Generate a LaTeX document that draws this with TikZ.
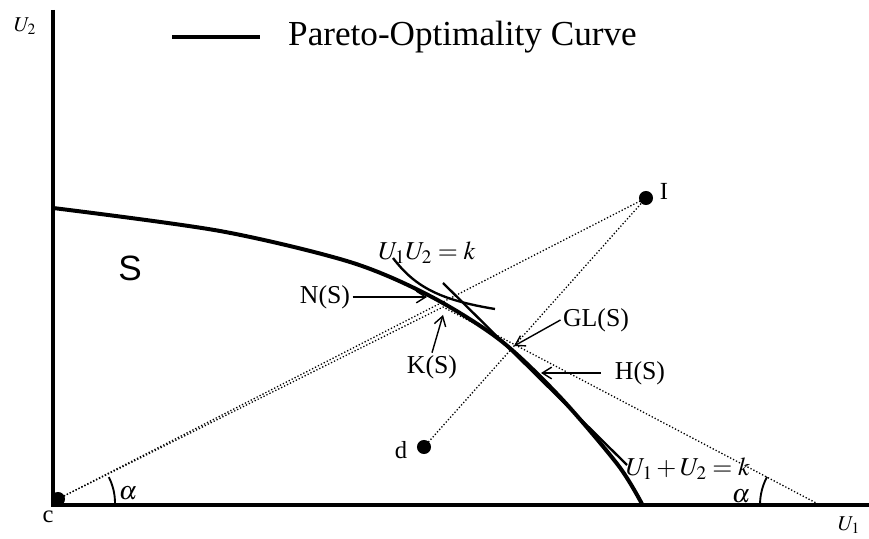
\documentclass[tikz,border=0pt]{standalone}
\usepackage{mathptmx}
\usepackage{fontspec}
\setmainfont{Liberation Serif}
\newfontfamily\arialfont{Liberation Sans}
\usetikzlibrary{arrows.meta}

\tikzset{
  axis/.style={line width=3.4pt, line join=miter},
  pareto/.style={line width=3.4pt},
  guide/.style={line width=2pt},
  dots/.style={line width=1.1pt, dash pattern=on 1.1pt off 1.7pt},
  pin/.style={line width=1.2pt, -{Straight Barb[length=8pt,width=10pt]}},
  dot/.style={circle, fill, inner sep=0pt, minimum size=12pt},
  lbl/.style={font=\fontsize{22}{26}\selectfont, inner sep=2pt},
  mlbl/.style={font=\fontsize{22}{26}\selectfont, inner sep=0pt},
  plbl/.style={font=\fontsize{21}{25}\selectfont, inner sep=1pt},
  axlbl/.style={font=\fontsize{18}{21}\selectfont, inner sep=1pt},
}

\begin{document}
\begin{tikzpicture}[x=0.03cm,y=0.03cm]
\useasboundingbox (0,0) rectangle (869,539);
% axes
\coordinate (O) at (53,34);
\draw[axis] (53,529) -- (O) -- (869,34);
\node[axlbl] (u2) at (25,513) {$U_2$};
\node[axlbl] (u1) at (849,14) {$U_1$};
% legend
\draw[pareto] (172,502) -- (260,502);
\node[anchor=base west, inner sep=0pt, font=\fontsize{30}{34}\selectfont] (leg) at (288,493) {Pareto-Optimality Curve};
% frontier of S
\draw[pareto] plot[smooth] coordinates {(53,331) (220,308) (350,277) (430,243) (500,199) (560,142) (618,74) (642,35)};
\node[font=\arialfont\fontsize{30}{34}\selectfont] (S) at (130,271) {S};
% points
\node[dot] (c) at (58,40) {};
\node[dot] (I) at (646,341) {};
\node[dot] (d) at (424,92) {};
\node[plbl] (clbl) at (48,22) {c};
\node[plbl] (Ilbl) at (664,348) {I};
\node[plbl] (dlbl) at (401,89) {d};
\coordinate (K) at (443,232);
\coordinate (X) at (820,34);
% dotted rays
\draw[dots] (c.center) -- (I.center);
\draw[dots] (c.center) -- (K) -- (X);
\draw[dots] (d.center) -- (I.center);
% level curves
\draw[guide] (443,256) -- (627,74);
\draw[guide] (393,281) .. controls (415,252) and (440,239) .. (495,230);
\node[mlbl] (hyp) at (427,286) {$U_1U_2=k$};
\node[mlbl] (lin) at (688,70) {$U_1+U_2=k$};
% angles
\draw[guide, line width=1.6pt] (115,36) arc[start angle=0, end angle=27, radius=57];
\draw[guide, line width=1.6pt] (760,34) arc[start angle=180, end angle=152, radius=60];
\node[mlbl] (a1) at (128,46) {$\alpha$};
\node[mlbl] (a2) at (741,43) {$\alpha$};
% solutions
\coordinate (N) at (427,242);
\coordinate (Kt) at (443,224);
\coordinate (GL) at (514,193);
\coordinate (H) at (541,166);
\node[lbl] (ns) at (325,242) {N(S)};
\node[lbl] (ks) at (432,172) {K(S)};
\node[lbl] (gls) at (596,219) {GL(S)};
\node[lbl] (hs) at (640,166) {H(S)};
\draw[pin] (ns.east) -- (N);
\draw[pin] (ks.north) -- (Kt);
\draw[pin] (gls.west) -- (GL);
\draw[pin] ([xshift=-10pt]hs.west) -- (H);
\end{tikzpicture}
\end{document}
